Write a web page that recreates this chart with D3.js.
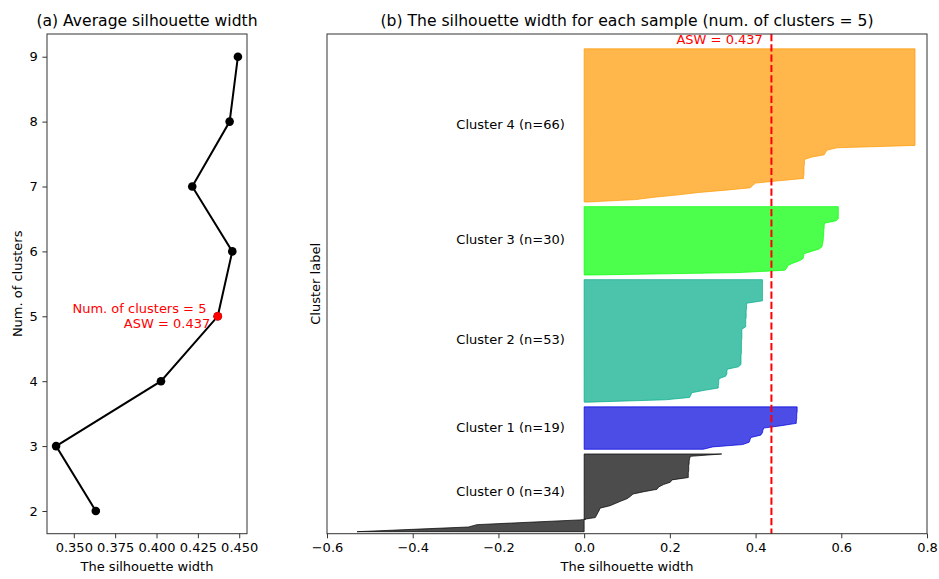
<!DOCTYPE html>
<html>
<head>
<meta charset="utf-8">
<script src="https://cdn.jsdelivr.net/npm/d3@7"></script>
<style>
  html, body { margin: 0; padding: 0; background: #fff; }
  svg { display: block; font-family: "DejaVu Sans", sans-serif; }
</style>
</head>
<body>
<svg id="chart" width="939" height="579"></svg>
<script>
// ---------- data ----------
const numClusters = [2, 3, 4, 5, 6, 7, 8, 9];
const avgSilhouette = [0.3633, 0.3393, 0.4027, 0.437, 0.4458, 0.4216, 0.4442, 0.4492];
const chosenK = 5;
const asw = 0.437;

const clusterIds = [0, 1, 2, 3, 4];
const clusterColors = ["#000000", "#0000dd", "#00aa88", "#00ff00", "#ff9900"];

const cluster0 = [-0.53, -0.40, -0.27, -0.25, -0.13, -0.01, 0.026, 0.029, 0.032, 0.035, 0.037, 0.06,
  0.073, 0.086, 0.10, 0.108, 0.114, 0.14, 0.17, 0.174, 0.185, 0.201, 0.205, 0.243, 0.243, 0.243,
  0.244, 0.244, 0.244, 0.245, 0.245, 0.246, 0.248, 0.321];
const cluster1 = [0.278, 0.30, 0.37, 0.385, 0.387, 0.389, 0.412, 0.416, 0.417, 0.419, 0.46, 0.495,
  0.495, 0.496, 0.496, 0.496, 0.497, 0.497, 0.497];
const cluster2 = [0.01, 0.19, 0.246, 0.249, 0.251, 0.28, 0.313, 0.313, 0.314, 0.314, 0.315, 0.33,
  0.333, 0.333, 0.334, 0.36,
  0.366, 0.366, 0.366, 0.366, 0.366, 0.367, 0.367, 0.367, 0.367, 0.367, 0.367, 0.368, 0.368, 0.368, 0.368, 0.368,
  0.377, 0.377, 0.377, 0.377, 0.378, 0.378, 0.378, 0.378, 0.379, 0.379, 0.379,
  0.416, 0.416, 0.416, 0.416, 0.416, 0.416, 0.416, 0.416, 0.416, 0.416];
const cluster3 = [0.02, 0.36, 0.468, 0.473, 0.475, 0.487, 0.502, 0.511, 0.512, 0.513, 0.53, 0.548,
  0.555, 0.556, 0.557, 0.558, 0.558, 0.559, 0.559, 0.559, 0.56, 0.56, 0.561, 0.588,
  0.593, 0.593, 0.593, 0.593, 0.593, 0.593];
const cluster4 = [0.01, 0.12, 0.163, 0.22, 0.266, 0.33, 0.388, 0.393, 0.40, 0.455, 0.512, 0.512,
  0.513, 0.513, 0.513, 0.513, 0.514, 0.514, 0.514, 0.53, 0.56, 0.563, 0.567, 0.59,
  0.772, 0.772, 0.772, 0.772, 0.772, 0.772, 0.772, 0.772, 0.772, 0.772, 0.772, 0.772, 0.772, 0.772,
  0.772, 0.772, 0.772, 0.772, 0.772, 0.772, 0.772, 0.772, 0.772, 0.772, 0.772, 0.772, 0.772, 0.772,
  0.772, 0.772, 0.772, 0.772, 0.772, 0.772, 0.772, 0.772, 0.772, 0.772, 0.772, 0.772, 0.772, 0.772];
const clusterValues = [cluster0, cluster1, cluster2, cluster3, cluster4];

const leftXTicks = [0.350, 0.375, 0.400, 0.425, 0.450];
const rightXTicks = [-0.6, -0.4, -0.2, 0.0, 0.2, 0.4, 0.6, 0.8];

// ---------- layout ----------
const svg = d3.select("#chart");
const FS = 13, TFS = 15.6;
const tickLen = 4.6, tickPad = 4.6;
const topY = 34, bottomY = 533.7;
const L = { left: 47, right: 247 };
const R = { left: 327, right: 927 };

// ---------- left panel ----------
const ext = d3.extent(avgSilhouette);
const mx = (ext[1] - ext[0]) * 0.05;
const xL = d3.scaleLinear().domain([ext[0] - mx, ext[1] + mx]).range([L.left, L.right]);
const yL = d3.scaleLinear().domain([1.65, 9.35]).range([bottomY, topY]);

const gL = svg.append("g");
const pts = numClusters.map((k, i) => ({ k, v: avgSilhouette[i] }));

gL.append("path")
  .datum(pts)
  .attr("fill", "none").attr("stroke", "#000").attr("stroke-width", 2)
  .attr("d", d3.line().x(d => xL(d.v)).y(d => yL(d.k)));
gL.selectAll("circle.pt").data(pts).enter().append("circle")
  .attr("class", "pt")
  .attr("cx", d => xL(d.v)).attr("cy", d => yL(d.k)).attr("r", 4.3)
  .attr("fill", "#000");
const best = pts.find(d => d.k === chosenK);
gL.append("circle").attr("cx", xL(best.v)).attr("cy", yL(best.k)).attr("r", 4.3).attr("fill", "#ff0000");
gL.append("text").attr("x", xL(best.v) - 11.3).attr("y", yL(best.k) - 8.1 + 4.7)
  .attr("text-anchor", "end").attr("font-size", FS).attr("fill", "#ff0000")
  .text("Num. of clusters = " + chosenK);
gL.append("text").attr("x", xL(best.v) - 7.5).attr("y", yL(best.k) + 7.3 + 4.7)
  .attr("text-anchor", "end").attr("font-size", FS).attr("fill", "#ff0000")
  .text("ASW = " + best.v.toFixed(3));

gL.append("g").attr("transform", `translate(0,${bottomY})`)
  .call(d3.axisBottom(xL).tickValues(leftXTicks).tickFormat(d3.format(".3f"))
    .tickSizeInner(tickLen).tickSizeOuter(0).tickPadding(tickPad));
gL.append("g").attr("transform", `translate(${L.left},0)`)
  .call(d3.axisLeft(yL).tickValues(numClusters).tickFormat(d3.format("d"))
    .tickSizeInner(tickLen).tickSizeOuter(0).tickPadding(tickPad));

gL.append("rect").attr("x", L.left).attr("y", topY)
  .attr("width", L.right - L.left).attr("height", bottomY - topY)
  .attr("fill", "none").attr("stroke", "#333").attr("stroke-width", 1);

gL.append("text").attr("x", (L.left + L.right) / 2).attr("y", 25.5)
  .attr("text-anchor", "middle").attr("font-size", TFS).text("(a) Average silhouette width");
gL.append("text").attr("x", (L.left + L.right) / 2).attr("y", 571)
  .attr("text-anchor", "middle").attr("font-size", FS).text("The silhouette width");
gL.append("text").attr("transform", `translate(21.5,${(topY + bottomY) / 2}) rotate(-90)`)
  .attr("text-anchor", "middle").attr("font-size", FS).text("Num. of clusters");

// ---------- right panel ----------
const xR = d3.scaleLinear().domain([-0.6, 0.8]).range([R.left, R.right]);
const yR = d3.scaleLinear().domain([0.15, 212.3]).range([bottomY, topY]);

const gR = svg.append("g");
let yLower = 1;
clusterIds.forEach((c, ci) => {
  const vals = clusterValues[ci];
  const n = vals.length;
  const base = yLower;
  const area = d3.area()
    .y((d, i) => yR(base + i))
    .x0(xR(0))
    .x1(d => xR(d));
  gR.append("path").datum(vals)
    .attr("d", area)
    .attr("fill", clusterColors[ci]).attr("fill-opacity", 0.7)
    .attr("stroke", clusterColors[ci]).attr("stroke-opacity", 0.7).attr("stroke-width", 1);
  gR.append("text")
    .attr("x", xR(-0.045)).attr("y", yR(base + 0.5 * n))
    .attr("dy", "0.36em")
    .attr("text-anchor", "end").attr("font-size", FS)
    .text(`Cluster ${c} (n=${n})`);
  yLower = base + n + 1;
});

gR.append("line")
  .attr("x1", xR(asw)).attr("x2", xR(asw)).attr("y1", topY).attr("y2", bottomY)
  .attr("stroke", "#ff0000").attr("stroke-width", 2).attr("stroke-dasharray", "7.2,3.1");
gR.append("text").attr("x", xR(asw - 0.02)).attr("y", 43.7)
  .attr("text-anchor", "end").attr("font-size", FS).attr("fill", "#ff0000")
  .text("ASW = " + asw.toFixed(3));

gR.append("g").attr("transform", `translate(0,${bottomY})`)
  .call(d3.axisBottom(xR).tickValues(rightXTicks).tickFormat(d3.format(".1f"))
    .tickSizeInner(tickLen).tickSizeOuter(0).tickPadding(tickPad));

gR.append("rect").attr("x", R.left).attr("y", topY)
  .attr("width", R.right - R.left).attr("height", bottomY - topY)
  .attr("fill", "none").attr("stroke", "#333").attr("stroke-width", 1);

gR.append("text").attr("x", (R.left + R.right) / 2).attr("y", 25.5)
  .attr("text-anchor", "middle").attr("font-size", TFS)
  .text(`(b) The silhouette width for each sample (num. of clusters = ${chosenK})`);
gR.append("text").attr("x", (R.left + R.right) / 2).attr("y", 571)
  .attr("text-anchor", "middle").attr("font-size", FS).text("The silhouette width");
gR.append("text").attr("transform", `translate(319.5,${(topY + bottomY) / 2}) rotate(-90)`)
  .attr("text-anchor", "middle").attr("font-size", FS).text("Cluster label");

// axis styling
svg.selectAll(".domain").remove();
svg.selectAll(".tick line").attr("stroke", "#333").attr("stroke-width", 1);
svg.selectAll(".tick text").attr("font-size", FS).attr("fill", "#000")
  .attr("font-family", "DejaVu Sans, sans-serif");
</script>
</body>
</html>
